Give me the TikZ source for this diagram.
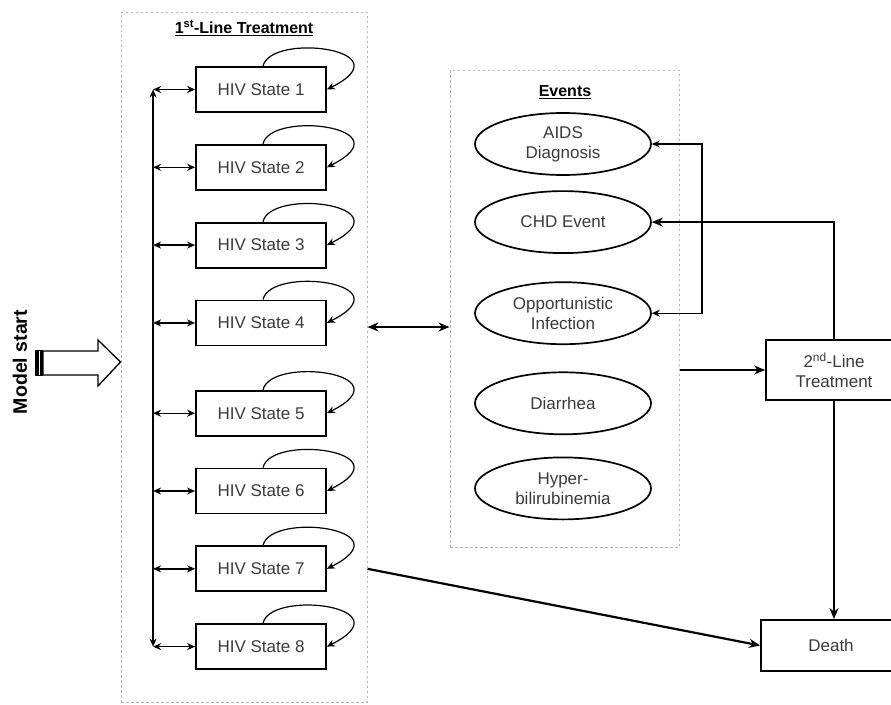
\documentclass[tikz,border=0pt]{standalone}
\usepackage{fontspec}
\setmainfont{Liberation Sans}
\usepackage{tikz}
\usepackage{xcolor}
\usetikzlibrary{arrows,arrows.meta,positioning,shapes}
\definecolor{darkText}{HTML}{3A3A3A}
\definecolor{boxGray}{HTML}{B4B4B4}
\tikzset{
	%Define standard arrow tip
	>={Stealth[length=8pt,width=7pt]},
	%Define style for state boxes
	stateBox/.style={
		rectangle,
		draw=black, line width=1.8pt,
		minimum width=130pt,
		minimum height=45pt,
		text=darkText,
		font=\fontsize{17}{20}\selectfont},
	%Define style for event ellipses
	eventNode/.style={
		ellipse,
		draw=black, line width=1.7pt,
		minimum width=176pt,
		minimum height=62pt,
		inner sep=0pt,
		align=center,
		text=darkText,
		font=\fontsize{17}{20}\selectfont},
	%Define style for outcome boxes
	outcomeBox/.style={
		rectangle,
		draw=black, line width=1.8pt,
		align=center,
		text=darkText,
		font=\fontsize{17}{20}\selectfont},
	%Define style for dotted group frames
	groupBox/.style={
		rectangle,
		draw=boxGray, line width=1pt,
		dash pattern=on 2.5pt off 2.5pt},
	titleNode/.style={
		font=\fontsize{16}{19}\selectfont\bfseries},
	% Define arrow styles
	edgeStyle/.style={
		-{Stealth[length=11pt,width=9pt]},
		line width=2.2pt},
	smallEdge/.style={
		<->,
		line width=1.4pt},
	loopEdge/.style={
		->,
		line width=1.2pt}
}

\begin{document}
\begin{tikzpicture}[x=1pt,y=-1pt]
		\useasboundingbox (0,0) rectangle (891,704);
		
		%group frames
		\node[groupBox, minimum width=246pt, minimum height=690pt] (firstLine) at (244,357) {};
		\node[groupBox, minimum width=229pt, minimum height=477pt] (eventsBox) at (564.5,308.5) {};
		\node[titleNode] (firstTitle) at (244,28) {\underline{1\textsuperscript{st}-Line Treatment}};
		\node[titleNode] (eventsTitle) at (565,92) {\underline{Events}};
		
		%HIV states
		\node[stateBox] (state1) at (261,89.5) {HIV State 1};
		\node[stateBox, below=31pt of state1] (state2) {HIV State 2};
		\node[stateBox, below=31pt of state2] (state3) {HIV State 3};
		\node[stateBox, below=31pt of state3] (state4) {HIV State 4};
		\node[stateBox, below=43.5pt of state4] (state5) {HIV State 5};
		\node[stateBox, below=31pt of state5] (state6) {HIV State 6};
		\node[stateBox, below=31pt of state6] (state7) {HIV State 7};
		\node[stateBox, below=31pt of state7] (state8) {HIV State 8};
		
		%events
		\node[eventNode] (aids) at (563,144) {AIDS\\Diagnosis};
		\node[eventNode, below=14.4pt of aids] (chd) {CHD Event};
		\node[eventNode, below=27.4pt of chd] (opp) {Opportunistic\\Infection};
		\node[eventNode, below=26.4pt of opp] (diarrhea) {Diarrhea};
		\node[eventNode, below=21.4pt of diarrhea] (hyper) {Hyper-\\bilirubinemia};
		
		%outcomes
		\node[outcomeBox, minimum width=136pt, minimum height=60pt] (secondLine) at (834,370) {2\textsuperscript{nd}-Line\\Treatment};
		\node[outcomeBox, minimum width=140pt, minimum height=51pt] (death) at (831,645.5) {Death};
		
		%model start
		\node[rotate=90, font=\fontsize{19.5}{22}\selectfont\bfseries] (modelStart) at (20,362) {Model start};
		\fill (35,350) rectangle (43,376);
		\draw[white, line width=1.5pt] (39.5,351) -- (39.5,375);
		\draw[line width=1.3pt, fill=white] (43,351) -- (98,351) -- (98,340) -- (firstLine.west |- modelStart) -- (98,386) -- (98,375) -- (43,375) -- cycle;
		
		%trunk and state links
		\draw[smallEdge] ([xshift=-42pt]state1.west) -- ([xshift=-42pt]state8.west);
		\foreach \s in {1,...,8}{
			\draw[smallEdge] ([xshift=-42pt]state\s.west) -- (state\s.west);
			\draw[loopEdge] ([xshift=2pt]state\s.north) .. controls +(8,-34) and +(80,-40) .. (state\s.east);
		}
		
		%links between groups
		\coordinate (midLink) at (410,327);
		\coordinate (bracket) at (702,222);
		\draw[edgeStyle, {Stealth[length=11pt,width=9pt]}-{Stealth[length=11pt,width=9pt]}] (firstLine.east |- midLink) -- (eventsBox.west |- midLink);
		\draw[<->, line width=1.2pt] (aids.east) -| (bracket) |- (opp.east);
		\draw[edgeStyle] (secondLine.north) |- (chd.east);
		\draw[edgeStyle] (eventsBox.east |- secondLine.west) -- (secondLine.west);
		\draw[edgeStyle] (secondLine.south) -- (secondLine.south |- death.north);
		\draw[edgeStyle] (firstLine.east |- state7) -- (death.west);
		
\end{tikzpicture}
\end{document}
